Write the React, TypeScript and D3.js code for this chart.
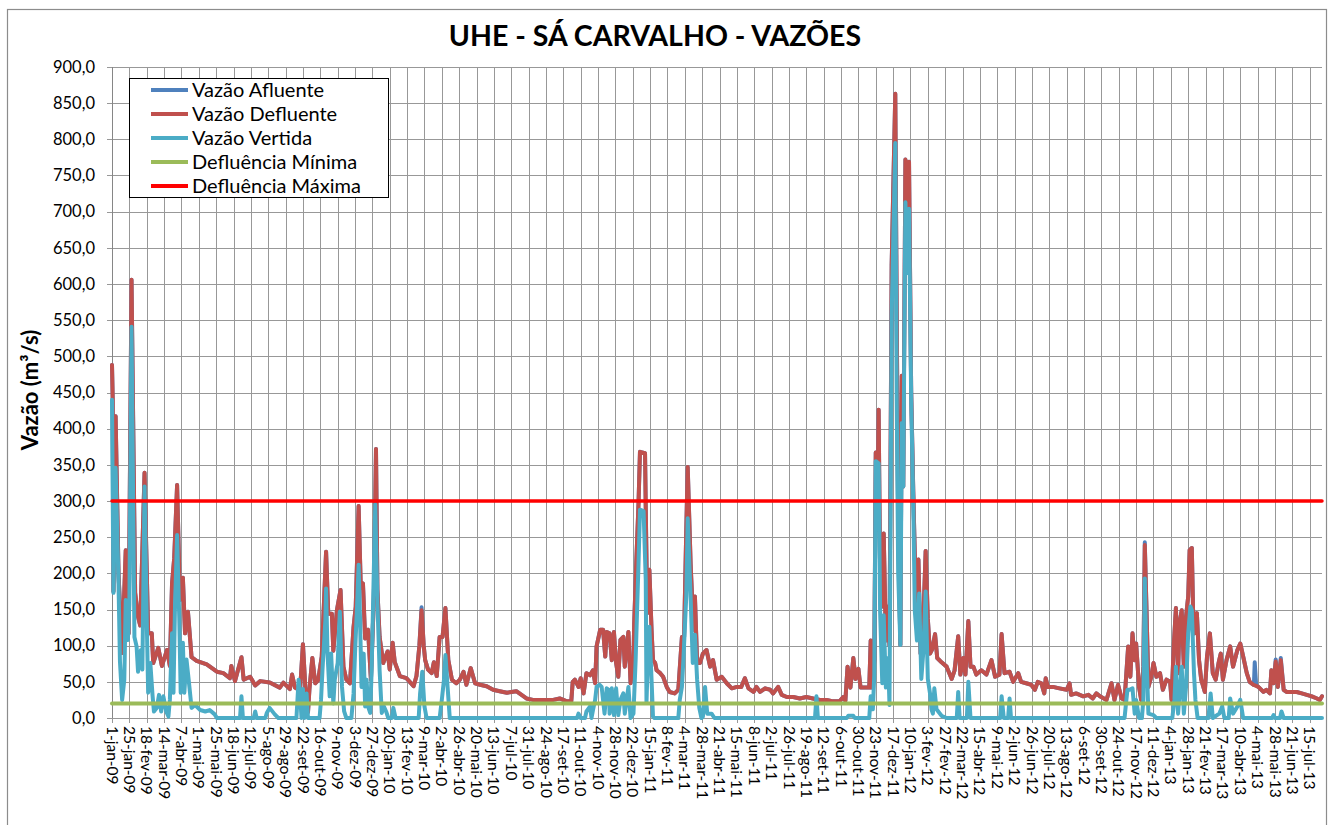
import React from 'react';
import * as d3 from 'd3';

// ---------- DATA (day offset from 1-jan-2009, m³/s) ----------
const startDate = Date.UTC(2009, 0, 1);
const endDay = 1673; // 1-ago-2013 (axis end)

const vazaoDefluente: [number, number][] = [
  [0,488],[1,440],[2,175],[5,417],[9,200],[14,90],[19,232],[23,117],[27,606],[32,173],[36,140],[39,128],[45,339],[50,117],[55,117],[57,76],[64,97],[69,72],[76,94],[80,72],[83,186],[86,221],[90,322],[94,163],[98,194],[101,117],[105,147],[110,84],[117,79],[131,74],[145,64],[154,62],[163,55],[165,72],[170,51],[179,84],[182,53],[191,57],[198,45],[205,51],[218,49],[232,42],[237,49],[246,40],[249,60],[253,42],[260,38],[264,102],[268,30],[271,8],[273,40],[277,83],[281,48],[285,52],[290,85],[296,230],[299,144],[304,144],[306,93],[311,149],[316,177],[320,71],[324,53],[329,48],[334,126],[337,154],[341,293],[344,180],[347,186],[350,110],[354,122],[358,53],[362,163],[365,372],[367,177],[370,112],[375,76],[381,92],[384,67],[388,104],[391,77],[398,58],[407,55],[417,44],[421,58],[425,100],[428,149],[431,100],[433,80],[437,67],[442,62],[445,77],[449,58],[453,112],[457,112],[461,152],[465,80],[470,53],[476,48],[481,53],[486,64],[490,46],[496,69],[502,48],[509,46],[518,44],[527,39],[536,37],[546,35],[559,37],[573,27],[582,25],[596,25],[610,25],[619,27],[629,23],[635,23],[637,50],[640,53],[645,43],[648,55],[652,34],[656,62],[661,59],[665,66],[668,48],[670,99],[675,122],[679,122],[682,85],[684,119],[688,117],[691,80],[694,119],[697,76],[700,57],[703,108],[707,112],[709,71],[714,119],[717,48],[721,80],[722,131],[725,218],[728,297],[730,368],[737,366],[738,290],[740,145],[743,205],[746,122],[748,80],[751,76],[753,66],[758,62],[762,57],[767,43],[771,36],[778,34],[783,39],[788,112],[791,112],[794,260],[796,347],[800,214],[804,122],[806,168],[809,76],[813,76],[817,89],[822,94],[827,71],[831,80],[836,53],[843,57],[850,48],[857,41],[864,43],[870,43],[875,55],[880,41],[887,36],[891,43],[896,36],[903,41],[910,39],[914,34],[921,43],[926,32],[933,29],[942,29],[951,27],[960,29],[969,27],[979,25],[988,25],[997,23],[1006,23],[1011,29],[1014,24],[1017,71],[1021,42],[1025,83],[1028,54],[1032,68],[1035,42],[1041,42],[1047,42],[1049,107],[1051,42],[1054,80],[1056,367],[1058,260],[1060,426],[1062,202],[1065,154],[1067,255],[1070,107],[1073,154],[1075,100],[1078,627],[1083,863],[1085,556],[1087,272],[1090,101],[1092,473],[1094,320],[1097,772],[1099,698],[1102,769],[1105,450],[1108,308],[1110,225],[1112,148],[1115,219],[1118,89],[1122,142],[1125,231],[1128,137],[1131,89],[1134,95],[1138,116],[1141,83],[1147,77],[1154,71],[1161,54],[1165,66],[1170,113],[1173,60],[1177,83],[1180,60],[1184,134],[1187,71],[1191,71],[1195,60],[1202,66],[1209,60],[1216,80],[1221,57],[1227,60],[1230,116],[1234,62],[1241,64],[1246,50],[1253,62],[1257,50],[1264,48],[1271,46],[1276,39],[1280,50],[1285,48],[1289,34],[1291,55],[1294,43],[1301,43],[1310,41],[1320,39],[1324,48],[1326,32],[1333,34],[1343,30],[1350,32],[1356,27],[1361,34],[1366,30],[1375,25],[1382,48],[1386,25],[1391,46],[1396,27],[1400,25],[1405,99],[1408,57],[1411,117],[1414,80],[1416,103],[1420,43],[1423,25],[1426,71],[1428,239],[1430,163],[1433,43],[1437,57],[1440,76],[1444,57],[1449,62],[1453,39],[1458,53],[1463,50],[1465,25],[1468,99],[1471,152],[1474,62],[1476,131],[1479,149],[1482,71],[1485,140],[1488,168],[1490,232],[1493,235],[1495,136],[1497,117],[1500,145],[1503,80],[1506,53],[1511,36],[1514,85],[1518,117],[1522,62],[1526,53],[1530,76],[1533,89],[1536,53],[1541,80],[1546,99],[1550,71],[1556,94],[1560,103],[1564,85],[1569,62],[1573,50],[1578,46],[1585,43],[1592,36],[1596,39],[1601,34],[1603,66],[1606,48],[1609,78],[1612,43],[1616,80],[1620,39],[1624,36],[1631,36],[1638,36],[1645,34],[1652,32],[1659,30],[1666,27],[1670,25],[1673,30]
];

// Afluente follows defluente almost everywhere; points where it differs (visible blue)
const vazaoAfluenteDiferencas: [number, number][] = [
  [428,153],[1428,243],[1579,50],[1580,77],[1582,45],[1609,81],[1616,83]
];

const vazaoVertida: [number, number][] = [
  [0,440],[2,173],[5,346],[9,187],[11,78],[14,25],[17,53],[19,163],[22,108],[24,157],[27,541],[31,112],[34,99],[36,64],[40,94],[42,67],[45,320],[48,138],[50,35],[53,76],[56,32],[58,9],[62,14],[65,32],[68,9],[71,30],[75,9],[78,2],[80,25],[83,117],[85,35],[87,149],[90,253],[93,138],[95,35],[98,104],[100,35],[103,81],[106,53],[110,14],[115,18],[122,11],[129,9],[135,11],[142,5],[145,0],[177,0],[179,30],[181,0],[196,0],[198,9],[200,0],[212,0],[214,7],[218,14],[225,5],[230,0],[255,0],[258,53],[260,35],[262,0],[264,40],[266,0],[269,34],[271,0],[287,0],[289,25],[291,66],[295,135],[296,179],[298,89],[301,30],[303,89],[306,20],[308,53],[312,76],[315,147],[318,43],[321,9],[324,0],[331,0],[334,34],[336,89],[339,159],[341,212],[343,135],[345,43],[348,89],[350,16],[352,53],[354,16],[357,7],[359,66],[361,159],[364,295],[367,159],[370,66],[373,7],[376,16],[379,9],[382,0],[387,0],[389,14],[392,0],[424,0],[426,34],[429,64],[432,16],[435,0],[453,0],[456,25],[459,53],[461,87],[464,43],[467,0],[643,0],[645,6],[648,0],[654,0],[656,9],[661,16],[663,0],[665,11],[668,25],[670,43],[674,46],[677,43],[681,6],[684,41],[687,39],[688,6],[691,41],[694,4],[697,41],[700,4],[703,25],[707,34],[709,6],[714,43],[717,0],[721,6],[724,80],[726,149],[728,214],[730,288],[735,286],[738,191],[739,21],[741,85],[743,126],[746,53],[748,2],[750,0],[783,0],[785,25],[788,43],[790,80],[794,168],[796,276],[800,168],[803,76],[806,115],[809,53],[812,14],[815,0],[817,2],[820,43],[823,6],[829,6],[833,0],[972,0],[974,30],[976,0],[1016,0],[1018,3],[1025,3],[1027,0],[1047,0],[1049,30],[1052,12],[1054,60],[1056,355],[1060,352],[1062,148],[1065,48],[1067,142],[1070,42],[1073,83],[1075,18],[1078,556],[1083,795],[1085,438],[1087,201],[1090,101],[1092,408],[1094,320],[1097,713],[1099,615],[1102,704],[1105,438],[1108,290],[1110,148],[1113,107],[1116,172],[1119,54],[1122,95],[1125,175],[1128,54],[1131,34],[1133,12],[1135,6],[1137,41],[1140,12],[1147,3],[1154,0],[1168,0],[1170,36],[1172,0],[1182,0],[1184,50],[1187,0],[1228,0],[1230,30],[1233,0],[1239,0],[1241,27],[1243,0],[1400,0],[1402,20],[1404,39],[1407,39],[1411,41],[1414,6],[1416,25],[1420,0],[1424,0],[1426,25],[1428,193],[1430,94],[1433,6],[1440,4],[1444,0],[1466,0],[1469,25],[1471,71],[1474,6],[1476,34],[1479,71],[1482,6],[1485,43],[1488,117],[1491,154],[1493,149],[1496,62],[1498,25],[1501,0],[1516,0],[1519,34],[1522,0],[1531,6],[1535,16],[1538,0],[1544,0],[1546,27],[1550,6],[1556,16],[1560,25],[1564,0],[1604,0],[1606,4],[1608,0],[1615,0],[1617,9],[1620,0],[1673,0]
];

const defluenciaMinima = 20;
const defluenciaMaxima = 300;

const xTickLabels = [
  '1-jan-09','25-jan-09','18-fev-09','14-mar-09','7-abr-09','1-mai-09','25-mai-09','18-jun-09','12-jul-09','5-ago-09','29-ago-09','22-set-09','16-out-09','9-nov-09','3-dez-09','27-dez-09',
  '20-jan-10','13-fev-10','9-mar-10','2-abr-10','26-abr-10','20-mai-10','13-jun-10','7-jul-10','31-jul-10','24-ago-10','17-set-10','11-out-10','4-nov-10','28-nov-10','22-dez-10',
  '15-jan-11','8-fev-11','4-mar-11','28-mar-11','21-abr-11','15-mai-11','8-jun-11','2-jul-11','26-jul-11','19-ago-11','12-set-11','6-out-11','30-out-11','23-nov-11','17-dez-11',
  '10-jan-12','3-fev-12','27-fev-12','22-mar-12','15-abr-12','9-mai-12','2-jun-12','26-jun-12','20-jul-12','13-ago-12','6-set-12','30-set-12','24-out-12','17-nov-12','11-dez-12',
  '4-jan-13','28-jan-13','21-fev-13','17-mar-13','10-abr-13','4-mai-13','28-mai-13','21-jun-13','15-jul-13'
];
const xTickStepDays = 24;
const yTicks = [0,50,100,150,200,250,300,350,400,450,500,550,600,650,700,750,800,850,900];

const seriesNames = ['Vazão Afluente','Vazão Defluente','Vazão Vertida','Defluência Mínima','Defluência Máxima'];
const seriesColors = ['#4F81BD','#C0504D','#4BACC6','#9BBB59','#FF0000'];

// ---------- LAYOUT ----------
const W = 1329, H = 825;
const plot = { left: 112, right: 1322, top: 67, bottom: 718 };
const FONT = "Lato, 'Liberation Sans', sans-serif";

const toDate = (d: number) => d3.utcDay.offset(new Date(startDate), d);

export default function App() {
  const x = d3.scaleUtc().domain([toDate(0), toDate(endDay)]).range([plot.left, plot.right]);
  const y = d3.scaleLinear().domain([0, 900]).range([plot.bottom, plot.top]);
  const line = d3.line<[number, number]>().x(p => x(toDate(p[0]))).y(p => y(p[1]));

  const afluenteMap = new Map<number, number>(vazaoDefluente.map(p => [p[0], p[1]]));
  vazaoAfluenteDiferencas.forEach(p => afluenteMap.set(p[0], p[1]));
  const vazaoAfluente: [number, number][] = Array.from(afluenteMap.entries()).sort((a, b) => a[0] - b[0]);

  const minLine: [number, number][] = [[0, defluenciaMinima], [endDay, defluenciaMinima]];
  const maxLine: [number, number][] = [[0, defluenciaMaxima], [endDay, defluenciaMaxima]];

  const series = [vazaoAfluente, vazaoDefluente, vazaoVertida, minLine, maxLine];
  const tickDates = xTickLabels.map((_, i) => toDate(i * xTickStepDays));
  const fmt = (v: number) => d3.format('.1f')(v).replace('.', ',');
  const gridColor = '#989898';

  return (
    <svg width={W} height={H} style={{ position: 'absolute', left: 0, top: 0, display: 'block', background: '#fff' }}>
      <rect x={7.5} y={9.5} width={1319} height={820} fill="#fff" stroke="#8c8c8c" strokeWidth={1.2} />
      <text x={655} y={46} textAnchor="middle" fontFamily={FONT} fontWeight="bold" fontSize={28.5} fill="#000">UHE - SÁ CARVALHO - VAZÕES</text>
      <text transform={`translate(38,390) rotate(-90)`} textAnchor="middle" fontFamily={FONT} fontWeight="bold" fontSize={22} fill="#000">Vazão (m³/s)</text>

      {/* grid */}
      <g>
        {yTicks.map(v => (
          <line key={'h' + v} x1={plot.left - 5} x2={plot.right} y1={Math.round(y(v)) + 0.5} y2={Math.round(y(v)) + 0.5} stroke={gridColor} strokeWidth={1} />
        ))}
        {tickDates.map((d, i) => (
          <line key={'v' + i} x1={Math.round(x(d)) + 0.5} x2={Math.round(x(d)) + 0.5} y1={plot.top} y2={plot.bottom + 5} stroke={gridColor} strokeWidth={1} />
        ))}
        <line x1={plot.left + 0.5} x2={plot.left + 0.5} y1={plot.top} y2={plot.bottom} stroke="#868686" strokeWidth={1} />
      </g>

      {/* y labels */}
      {yTicks.map(v => (
        <text key={'yl' + v} x={95} y={y(v)} dy="0.35em" textAnchor="end" fontFamily={FONT} fontSize={16.5} fill="#000">{fmt(v)}</text>
      ))}
      {/* x labels */}
      {tickDates.map((d, i) => (
        <text key={'xl' + i} transform={`translate(${x(d)},726) rotate(90)`} dy="0.35em" textAnchor="start" fontFamily={FONT} fontSize={15.5} fill="#000">{xTickLabels[i]}</text>
      ))}

      {/* series */}
      {series.map((s, i) => (
        <path key={'s' + i} d={line(s) || ''} fill="none" stroke={seriesColors[i]} strokeWidth={i === 4 ? 3.5 : 4} strokeLinejoin="round" strokeLinecap="round" />
      ))}

      {/* legend */}
      <g>
        <rect x={129.5} y={78.5} width={259} height={119} fill="#fff" stroke="#000" strokeWidth={1} />
        {seriesNames.map((n, i) => (
          <g key={'lg' + i}>
            <line x1={151} x2={188} y1={90 + i * 24} y2={90 + i * 24} stroke={seriesColors[i]} strokeWidth={4} />
            <text x={192} y={90 + i * 24} dy="0.35em" fontFamily={FONT} fontSize={20} fill="#000">{n}</text>
          </g>
        ))}
      </g>
    </svg>
  );
}
